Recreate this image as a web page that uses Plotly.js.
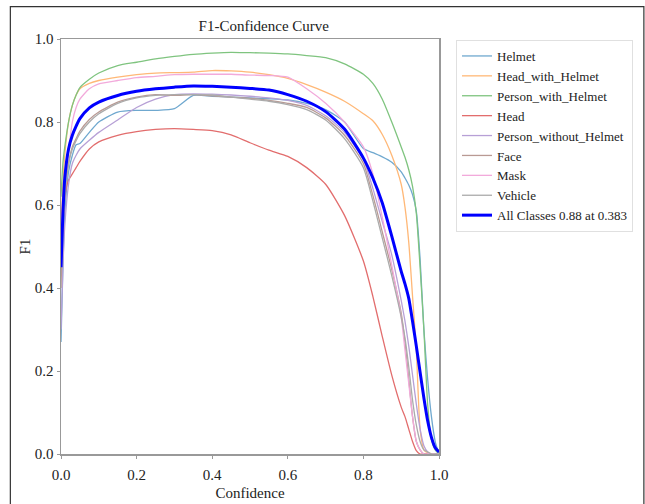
<!DOCTYPE html>
<html>
<head>
<meta charset="utf-8">
<script src="https://cdn.plot.ly/plotly-3.0.1.min.js"></script>
<style>html,body{margin:0;padding:0;background:#fff;}#chart{width:645px;height:504px;}</style>
</head>
<body>
<div id="chart"></div>
<script>
var conf = [0, 0.005, 0.01, 0.02, 0.03, 0.04, 0.05, 0.075, 0.1, 0.15, 0.2, 0.25, 0.3, 0.35, 0.4, 0.45, 0.5, 0.55, 0.6, 0.65, 0.7, 0.75, 0.8, 0.825, 0.85, 0.875, 0.9, 0.91, 0.92, 0.93, 0.94, 0.95, 0.96, 0.97, 0.98, 0.99, 1.0];

var helmet = [0.27, 0.45, 0.58, 0.68, 0.72, 0.745, 0.748, 0.775, 0.80, 0.824, 0.828, 0.828, 0.832, 0.864, 0.862, 0.86, 0.858, 0.856, 0.853, 0.845, 0.83, 0.80, 0.736, 0.726, 0.716, 0.703, 0.68, 0.665, 0.648, 0.625, 0.585, 0.47, 0.30, 0.18, 0.09, 0.03, 0];
var headWithHelmet = [0.55, 0.65, 0.72, 0.80, 0.84, 0.865, 0.88, 0.893, 0.90, 0.908, 0.914, 0.918, 0.919, 0.92, 0.924, 0.923, 0.92, 0.914, 0.905, 0.89, 0.872, 0.85, 0.82, 0.803, 0.77, 0.72, 0.65, 0.595, 0.51, 0.38, 0.25, 0.06, 0.01, 0.003, 0.001, 0, 0];
var personWithHelmet = [0.62, 0.70, 0.74, 0.80, 0.84, 0.865, 0.883, 0.903, 0.918, 0.936, 0.944, 0.952, 0.958, 0.963, 0.966, 0.968, 0.967, 0.966, 0.964, 0.96, 0.955, 0.94, 0.915, 0.893, 0.855, 0.80, 0.74, 0.715, 0.685, 0.645, 0.58, 0.45, 0.30, 0.12, 0.035, 0.01, 0];
var head = [0.45, 0.55, 0.62, 0.66, 0.675, 0.69, 0.705, 0.735, 0.752, 0.768, 0.777, 0.782, 0.784, 0.782, 0.779, 0.769, 0.75, 0.732, 0.717, 0.69, 0.65, 0.575, 0.465, 0.38, 0.283, 0.19, 0.113, 0.09, 0.06, 0.03, 0.008, 0, 0, 0, 0, 0, 0];
var personWithoutHelmet = [0.3, 0.45, 0.55, 0.65, 0.70, 0.72, 0.735, 0.756, 0.775, 0.805, 0.835, 0.855, 0.866, 0.868, 0.867, 0.865, 0.862, 0.858, 0.852, 0.84, 0.815, 0.775, 0.71, 0.64, 0.56, 0.48, 0.37, 0.32, 0.26, 0.19, 0.12, 0.06, 0.02, 0.005, 0, 0, 0];
var face = [0.4, 0.55, 0.62, 0.70, 0.74, 0.76, 0.778, 0.806, 0.824, 0.848, 0.86, 0.866, 0.864, 0.866, 0.863, 0.86, 0.857, 0.852, 0.845, 0.835, 0.81, 0.768, 0.70, 0.623, 0.535, 0.445, 0.34, 0.27, 0.18, 0.09, 0.03, 0.01, 0, 0, 0, 0, 0];
var mask = [0.5, 0.6, 0.65, 0.73, 0.80, 0.835, 0.855, 0.88, 0.892, 0.90, 0.907, 0.91, 0.914, 0.915, 0.915, 0.915, 0.913, 0.912, 0.908, 0.88, 0.845, 0.80, 0.74, 0.675, 0.57, 0.455, 0.33, 0.25, 0.17, 0.09, 0.03, 0.01, 0, 0, 0, 0, 0];
var vehicle = [0.45, 0.56, 0.63, 0.70, 0.735, 0.755, 0.772, 0.80, 0.82, 0.845, 0.858, 0.864, 0.866, 0.866, 0.865, 0.86, 0.855, 0.85, 0.842, 0.83, 0.805, 0.76, 0.69, 0.61, 0.52, 0.43, 0.33, 0.28, 0.21, 0.13, 0.07, 0.03, 0.01, 0.005, 0, 0, 0];
var allClasses = [0.45, 0.58, 0.665, 0.735, 0.768, 0.79, 0.808, 0.834, 0.848, 0.864, 0.874, 0.88, 0.884, 0.887, 0.886, 0.884, 0.881, 0.877, 0.866, 0.85, 0.825, 0.783, 0.713, 0.665, 0.605, 0.525, 0.44, 0.41, 0.375, 0.32, 0.26, 0.197, 0.135, 0.08, 0.04, 0.015, 0.005];

var names = ['Helmet', 'Head_with_Helmet', 'Person_with_Helmet', 'Head', 'Person_without_Helmet', 'Face', 'Mask', 'Vehicle', 'All Classes 0.88 at 0.383'];
var series = [helmet, headWithHelmet, personWithHelmet, head, personWithoutHelmet, face, mask, vehicle, allClasses];
var colors = ['#6fa8cf', '#ffb877', '#7fc47f', '#e26d6d', '#b7a0d6', '#b99a94', '#f2aadb', '#ababab', '#0000ff'];
var widths = [1.3, 1.3, 1.3, 1.3, 1.3, 1.3, 1.3, 1.3, 3];

var traces = series.map(function (s, i) {
  return {
    x: conf, y: s, type: 'scatter', mode: 'lines', name: names[i],
    line: {color: colors[i], width: widths[i], shape: 'spline', smoothing: 0.6}
  };
});

var serif = 'Liberation Serif, Times New Roman, serif';
var layout = {
  width: 645, height: 504,
  margin: {l: 61, r: 206, t: 39, b: 49.5, autoexpand: false},
  paper_bgcolor: '#fff', plot_bgcolor: '#fff',
  font: {family: serif, size: 14, color: '#222'},
  title: {text: 'F1-Confidence Curve', font: {family: serif, size: 15, color: '#222'}, x: 0.409, xanchor: 'center', y: 0.949, yanchor: 'middle'},
  xaxis: {
    range: [0, 1], tickvals: [0, 0.2, 0.4, 0.6, 0.8, 1.0], ticktext: ['0.0', '0.2', '0.4', '0.6', '0.8', '1.0'],
    showgrid: false, zeroline: false, showline: true, mirror: true, linecolor: '#999', linewidth: 1.5,
    ticks: 'outside', ticklen: 3, tickcolor: '#999', ticklabelstandoff: 3,
    tickfont: {family: serif, size: 15, color: '#222'},
    title: {text: 'Confidence', font: {family: serif, size: 15, color: '#222'}, standoff: 6}
  },
  yaxis: {
    range: [0, 1], tickvals: [0, 0.2, 0.4, 0.6, 0.8, 1.0], ticktext: ['0.0', '0.2', '0.4', '0.6', '0.8', '1.0'],
    showgrid: false, zeroline: false, showline: true, mirror: true, linecolor: '#999', linewidth: 1.5,
    ticks: 'outside', ticklen: 3, tickcolor: '#999',
    tickfont: {family: serif, size: 15, color: '#222'},
    title: {text: 'F1', font: {family: serif, size: 15, color: '#222'}, standoff: 0}
  },
  legend: {
    x: 1.045, y: 0.9976, xanchor: 'left', yanchor: 'top',
    bgcolor: '#fff', bordercolor: '#e0e0e0', borderwidth: 1,
    font: {family: serif, size: 13, color: '#222'},
    itemwidth: 30
  },
  shapes: [{
    type: 'rect', xref: 'paper', yref: 'paper',
    x0: -0.134, x1: 1.542, y0: -0.13, y1: 1.078,
    line: {color: '#333', width: 1.2}, fillcolor: 'rgba(0,0,0,0)', layer: 'below'
  }],
  showlegend: true
};

Plotly.newPlot('chart', traces, layout, {displayModeBar: false, staticPlot: true});
</script>
</body>
</html>
